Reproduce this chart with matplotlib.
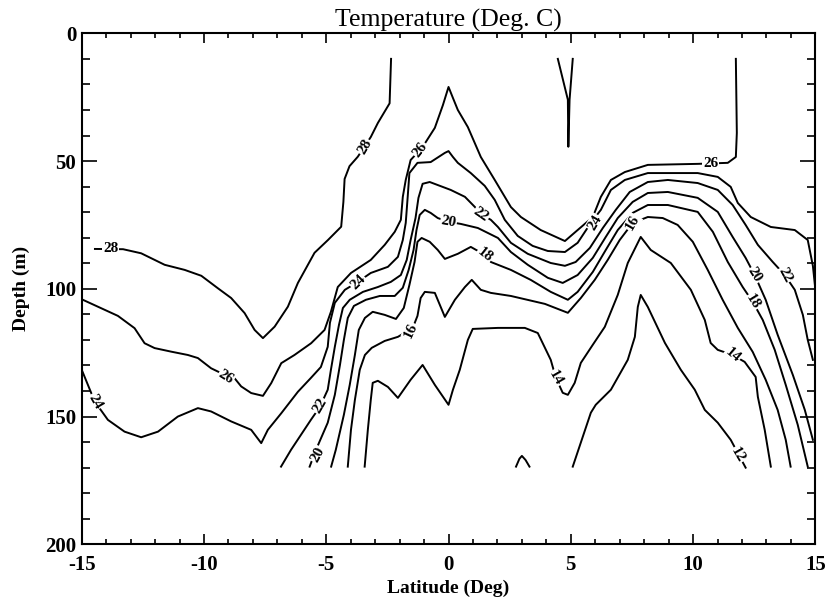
import matplotlib
matplotlib.use("Agg")
import matplotlib.pyplot as plt
from matplotlib.ticker import MultipleLocator

plt.rcParams['font.family'] = ['Liberation Serif', 'DejaVu Serif']
plt.rcParams['axes.unicode_minus'] = False

iso28 = [(-14.46, 84.4), (-13.31, 84.5), (-12.57, 86.1), (-11.61, 90.6), (-10.79, 92.6),
         (-10.11, 94.9), (-9.43, 99.8), (-8.89, 103.6), (-8.34, 109.5), (-7.93, 116.1),
         (-7.59, 119.3), (-7.11, 114.8), (-6.57, 107.0), (-6.16, 97.7), (-5.48, 85.9),
         (-4.93, 80.9), (-4.39, 75.7), (-4.30, 66.0), (-4.25, 57.0), (-4.05, 52.0),
         (-3.71, 48.3), (-3.18, 40.6), (-2.89, 35.1), (-2.41, 27.4), (-2.35, 10.0)]
iso28_tongue = [(4.47, 10.0), (4.88, 26.0), (4.90, 44.4), (4.95, 26.0), (5.08, 10.0)]
iso26 = [(-15.0, 104.1), (-14.34, 107.0), (-13.52, 110.6), (-12.84, 115.4), (-12.43, 121.3),
         (-12.02, 123.2), (-11.34, 124.6), (-10.66, 125.9), (-10.25, 127.1), (-9.71, 131.1),
         (-9.30, 133.0), (-8.75, 135.0), (-8.48, 138.2), (-8.07, 140.8), (-7.59, 141.9),
         (-7.25, 136.9), (-6.84, 129.1), (-6.30, 125.9), (-5.62, 121.3), (-5.07, 116.1),
         (-4.81, 109.0), (-4.53, 99.3), (-3.99, 93.8), (-3.18, 88.7), (-2.61, 82.8),
         (-2.20, 77.7), (-1.95, 73.0), (-1.87, 64.0), (-1.75, 57.4), (-1.55, 49.6),
         (-1.06, 44.5), (-0.56, 37.0), (-0.23, 28.1), (0.0, 21.0), (0.18, 25.3),
         (0.38, 30.0), (0.79, 36.7), (1.32, 48.4), (1.89, 57.4), (2.55, 68.0),
         (2.96, 71.9), (3.77, 77.0), (4.76, 81.3), (5.28, 77.0), (5.90, 71.9),
         (6.23, 64.0), (6.64, 57.4), (7.21, 54.3), (8.15, 51.5), (10.19, 51.1),
         (11.42, 50.7), (11.75, 48.4), (11.79, 39.0), (11.75, 10.0)]
iso24 = [(-15.0, 131.7), (-14.47, 144.1), (-13.93, 151.3), (-13.25, 155.9), (-12.57, 158.1),
         (-11.88, 155.9), (-11.07, 150.0), (-10.25, 146.7), (-9.71, 148.0), (-8.89, 151.9),
         (-8.07, 155.2), (-7.66, 160.4), (-7.39, 155.2), (-6.84, 148.7), (-6.16, 140.3),
         (-5.63, 134.9), (-5.22, 130.6), (-4.94, 122.7), (-4.85, 113.3), (-4.65, 105.5),
         (-4.24, 100.4), (-3.71, 97.3), (-3.18, 93.8), (-2.48, 91.4), (-2.07, 87.5),
         (-1.87, 80.9), (-1.75, 74.2), (-1.67, 64.0), (-1.60, 54.7), (-1.27, 50.7),
         (-0.73, 50.4), (-0.15, 46.8), (0.0, 46.1), (0.18, 48.4), (0.38, 50.7),
         (0.91, 54.7), (1.48, 59.7), (1.89, 65.2), (2.30, 73.0), (2.83, 79.3),
         (3.44, 83.2), (4.06, 85.2), (4.76, 85.6), (5.28, 82.0), (5.82, 74.2),
         (6.23, 69.1), (6.64, 61.3), (7.21, 57.4), (8.15, 54.7), (10.19, 54.7),
         (11.01, 56.2), (11.54, 60.1), (11.83, 66.4), (12.36, 71.9), (13.18, 75.8),
         (14.16, 77.0), (14.69, 80.9), (14.90, 91.0), (15.0, 100.0)]
iso22 = [(-6.85, 169.6), (-6.44, 163.0), (-5.63, 151.3), (-5.26, 146.2), (-4.94, 139.5),
         (-4.81, 131.7), (-4.65, 122.7), (-4.48, 114.1), (-4.32, 107.5), (-4.04, 104.3),
         (-3.50, 101.2), (-2.89, 99.3), (-2.36, 97.3), (-1.95, 94.6), (-1.71, 88.7),
         (-1.55, 80.9), (-1.35, 72.3), (-1.23, 64.4), (-1.06, 58.9), (-0.77, 58.2),
         (0.09, 61.3), (0.67, 64.0), (1.08, 68.0), (1.32, 70.7), (1.73, 73.0),
         (2.02, 75.8), (2.55, 82.0), (3.24, 86.3), (4.18, 89.9), (4.76, 91.0),
         (5.20, 89.5), (5.78, 84.0), (6.31, 76.2), (6.84, 69.1), (7.41, 62.1),
         (8.15, 58.2), (8.97, 57.4), (10.19, 58.6), (11.01, 61.3), (11.62, 67.2),
         (12.15, 75.0), (12.65, 82.8), (13.26, 89.5), (13.75, 94.6), (14.16, 100.4),
         (14.49, 110.2), (14.69, 120.0), (14.90, 127.8)]
iso20 = [(-5.68, 169.6), (-5.42, 163.0), (-4.94, 152.4), (-4.65, 141.5), (-4.44, 129.8),
         (-4.28, 120.0), (-4.12, 111.4), (-3.87, 106.7), (-3.38, 104.3), (-2.81, 102.8),
         (-2.20, 102.8), (-1.87, 99.6), (-1.63, 92.6), (-1.43, 84.8), (-1.31, 77.0),
         (-1.18, 71.1), (-0.97, 69.1), (-0.73, 70.3), (-0.44, 72.3), (0.0, 73.8),
         (0.50, 74.6), (1.20, 76.2), (2.02, 80.1), (2.55, 85.6), (3.24, 90.6),
         (4.06, 95.7), (4.67, 97.7), (5.28, 94.6), (5.90, 87.9), (6.43, 79.7),
         (6.92, 72.3), (7.53, 66.0), (8.15, 62.5), (8.97, 62.1), (10.19, 64.4),
         (11.01, 69.9), (11.62, 79.7), (12.15, 87.9), (12.52, 94.6), (12.97, 104.3),
         (13.46, 118.0), (14.08, 133.7), (14.57, 147.4), (14.90, 159.1)]
iso18 = [(-4.80, 169.6), (-4.61, 163.0), (-4.28, 149.3), (-4.04, 137.6), (-3.83, 125.9),
         (-3.67, 116.1), (-3.42, 111.4), (-3.10, 109.0), (-2.61, 110.2), (-2.15, 111.8),
         (-1.83, 107.5), (-1.60, 98.5), (-1.39, 89.5), (-1.27, 81.6), (-1.10, 80.1),
         (-0.77, 81.6), (-0.44, 84.8), (-0.15, 88.3), (0.38, 86.3), (0.91, 83.6),
         (1.48, 86.7), (1.73, 89.5), (2.55, 92.6), (3.36, 96.5), (4.18, 101.2),
         (4.88, 104.3), (5.28, 101.2), (5.90, 93.4), (6.43, 84.8), (6.92, 77.0),
         (7.53, 70.3), (8.15, 67.2), (8.97, 67.2), (10.19, 69.9), (10.81, 77.7),
         (11.42, 89.5), (12.03, 99.3), (12.44, 105.1), (12.85, 112.2), (13.34, 123.9),
         (13.79, 137.6), (14.28, 153.2), (14.69, 169.6)]
iso16 = [(-4.12, 169.6), (-3.99, 155.2), (-3.83, 143.5), (-3.63, 131.7), (-3.42, 125.9),
         (-3.14, 123.1), (-2.61, 120.4), (-2.07, 118.8), (-1.67, 116.5), (-1.43, 114.5),
         (-1.27, 110.6), (-1.14, 103.6), (-0.97, 101.2), (-0.56, 101.6), (-0.15, 111.0),
         (0.26, 104.3), (0.67, 99.3), (0.95, 96.5), (1.32, 100.4), (1.73, 101.6),
         (2.55, 102.8), (3.94, 105.9), (4.88, 109.4), (5.41, 103.6), (5.98, 96.5),
         (6.51, 88.7), (7.00, 80.9), (7.53, 74.2), (8.15, 71.9), (8.76, 72.3),
         (9.37, 75.0), (9.99, 81.6), (10.60, 92.6), (11.21, 104.3), (11.83, 115.3),
         (12.44, 124.7), (12.97, 135.6), (13.46, 147.4), (13.79, 159.1), (13.99, 169.6)]
iso14 = [(-3.43, 169.6), (-3.30, 155.2), (-3.18, 143.5), (-3.10, 136.8), (-2.89, 136.0),
         (-2.48, 138.4), (-2.07, 142.7), (-1.55, 135.6), (-1.06, 129.8), (-0.56, 137.6),
         (0.0, 145.4), (0.18, 139.5), (0.46, 131.7), (0.79, 120.0), (0.99, 115.7),
         (2.02, 115.3), (3.12, 115.3), (3.65, 117.3), (4.18, 127.8), (4.39, 134.9),
         (4.67, 140.7), (4.88, 141.5), (5.16, 136.8), (5.41, 129.0), (5.90, 121.9),
         (6.39, 114.9), (6.92, 102.4), (7.33, 89.9), (7.86, 79.7), (8.27, 84.8),
         (9.09, 89.9), (9.91, 100.4), (10.48, 112.2), (10.72, 121.2), (11.01, 123.9),
         (11.62, 125.9), (12.11, 128.6), (12.56, 134.5), (12.65, 142.3), (12.93, 155.2),
         (13.18, 169.6)]
iso12 = [(5.08, 169.6), (5.82, 148.5), (6.02, 145.4), (6.64, 139.5), (7.33, 127.8),
         (7.62, 118.8), (7.74, 107.1), (7.86, 102.4), (8.15, 107.1), (8.85, 121.2),
         (9.50, 131.7), (10.07, 139.5), (10.48, 147.4), (11.01, 152.4), (11.54, 159.1),
         (12.15, 170.0)]
iso12_hump = [(2.76, 169.6), (2.90, 166.5), (3.00, 165.4), (3.15, 167.0), (3.31, 169.6)]

isotherms = [iso28, iso28_tongue, iso26, iso24, iso22, iso20, iso18, iso16, iso14,
             iso12, iso12_hump]

# contour labels
label_text = ['28', '26', '24', '28', '26', '24', '22', '20', '20', '22', '18', '16',
              '14', '24', '16', '26', '20', '22', '18', '14', '12']
label_lat = [-13.81, -9.10, -14.46, -3.42, -1.14, -3.71, -5.26, -5.34, 0.0, 1.32, 1.48,
             -1.55, 4.39, 5.98, 7.53, 10.72, 12.52, 13.75, 12.44, 11.62, 11.83]
label_depth = [84.4, 134.5, 144.2, 44.5, 45.7, 97.3, 145.8, 165.0, 73.8, 71.1, 86.7,
               116.5, 134.9, 74.2, 74.2, 51.1, 94.6, 94.6, 105.1, 125.9, 165.0]
label_rot = [0, -32, -60, 60, 53, 45, 60, 62, -10, -35, -38, 65, -60, 60, 60, 0, -58,
             -62, -58, -40, -60]

fig = plt.figure(figsize=(8.29, 5.99), dpi=100)
ax = fig.add_axes([0.0986, 0.0913, 0.8849, 0.8531])

for line in isotherms:
    lat = [p[0] for p in line]
    dep = [p[1] for p in line]
    ax.plot(lat, dep, color='black', lw=1.4, solid_joinstyle='round')

for txt, x, y, r in zip(label_text, label_lat, label_depth, label_rot):
    ax.text(x, y, txt, rotation=r, ha='center', va='center', fontsize=11,
            fontweight='bold', rotation_mode='anchor',
            bbox=dict(facecolor='white', edgecolor='none', pad=0.6))

ax.set_xlim(-15, 15)
ax.set_ylim(200, 0)
ax.xaxis.set_major_locator(MultipleLocator(5))
ax.xaxis.set_minor_locator(MultipleLocator(1))
ax.yaxis.set_major_locator(MultipleLocator(50))
ax.yaxis.set_minor_locator(MultipleLocator(10))
ax.tick_params(which='both', direction='in', top=True, right=True, width=1.2,
               labelsize=15)
ax.tick_params(axis='x', which='major', length=7, pad=8)
ax.tick_params(axis='x', which='minor', length=3.5)
ax.tick_params(axis='y', which='major', length=11, pad=4)
ax.tick_params(axis='y', which='minor', length=5.5)
for lab in ax.get_xticklabels() + ax.get_yticklabels():
    lab.set_fontweight('bold')
for sp in ax.spines.values():
    sp.set_linewidth(1.5)

ax.set_title('Temperature (Deg. C)', fontsize=18.5, pad=5)
ax.set_xlabel('Latitude (Deg)', fontsize=14, fontweight='bold', labelpad=3)
ax.set_ylabel('Depth (m)', fontsize=14, fontweight='bold', labelpad=11)

fig.savefig('out.png', dpi=100)
